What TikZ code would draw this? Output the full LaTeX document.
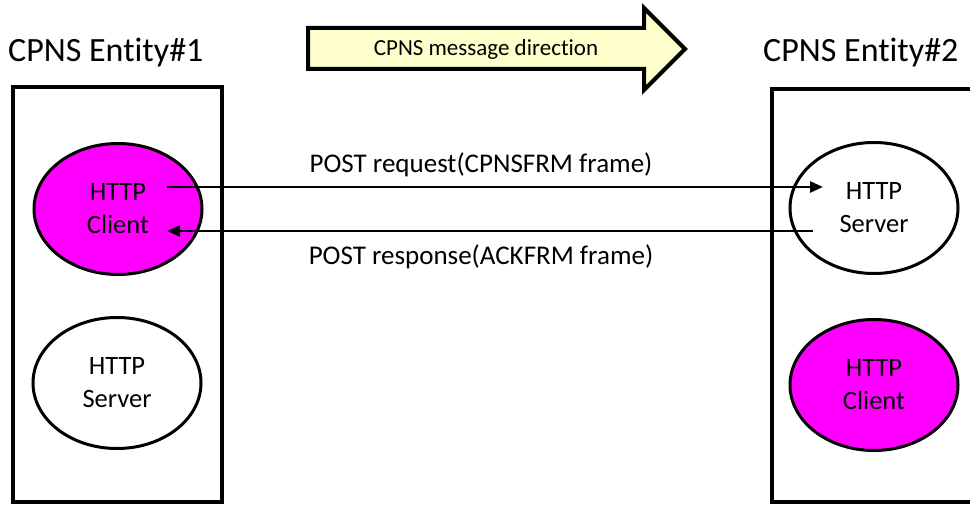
\documentclass[tikz,border=0pt]{standalone}
\usepackage{fontspec}
\setmainfont{Carlito}[Ligatures=NoCommon]
\usetikzlibrary{arrows.meta,shapes.geometric}
\definecolor{magentafill}{RGB}{255,0,255}
\definecolor{arrowyellow}{RGB}{255,255,204}
\begin{document}
\begin{tikzpicture}[x=1pt,y=-1pt,
  entitybox/.style={draw=black,line width=4pt},
  httpnode/.style={ellipse,draw=black,line width=3pt,minimum width=168pt,minimum height=131pt,inner sep=0pt,align=center,font=\fontsize{26.5}{33}\selectfont},
  client/.style={httpnode,fill=magentafill},
  server/.style={httpnode,fill=white},
  msg/.style={draw=black,line width=2.5pt,-{Triangle[length=13pt,width=11pt]}},
  msglabel/.style={font=\fontsize{27}{30}\selectfont,inner sep=0pt,anchor=base},
  titletext/.style={font=\fontsize{34}{40}\selectfont,inner sep=0pt,anchor=base west},
  dirarrow/.style={draw=black,line width=4pt,fill=arrowyellow,line join=miter},
]
\useasboundingbox (0,0) rectangle (970,505);
\fill[white] (0,0) rectangle (970,505);

% titles
\node[titletext] (t1) at (8,62) {CPNS Entity\#1};
\node[titletext] (t2) at (763,62) {CPNS Entity\#2};

% direction arrow
\draw[dirarrow] (308,28) -- (644,28) -- (644,8) -- (685,49) -- (644,90) -- (644,69) -- (308,69) -- cycle;
\node[font=\fontsize{23}{26}\selectfont,inner sep=0pt] (dir) at (486,49) {CPNS message direction};

% entity boxes
\draw[entitybox] (13,87) rectangle (222,502);
\draw[entitybox] (772,89) rectangle (1000,502);

% HTTP nodes
\node[client] (c1) at (118,209) {HTTP\\Client};
\node[server] (s1) at (117,383) {HTTP\\Server};
\node[server] (s2) at (874,208) {HTTP\\Server};
\node[client] (c2) at (874,385) {HTTP\\Client};

% message arrows
\coordinate (reqStart) at (167,187);
\coordinate (reqEnd) at (823,187);
\coordinate (resStart) at (813,231);
\coordinate (resEnd) at (167,231);
\draw[msg] (reqStart) -- (reqEnd);
\draw[msg] (resStart) -- (resEnd);

\node[msglabel] (reqlabel) at (481,173) {POST request(CPNSFRM frame)};
\node[msglabel] (reslabel) at (481,265) {POST response(ACKFRM frame)};
\end{tikzpicture}
\end{document}
